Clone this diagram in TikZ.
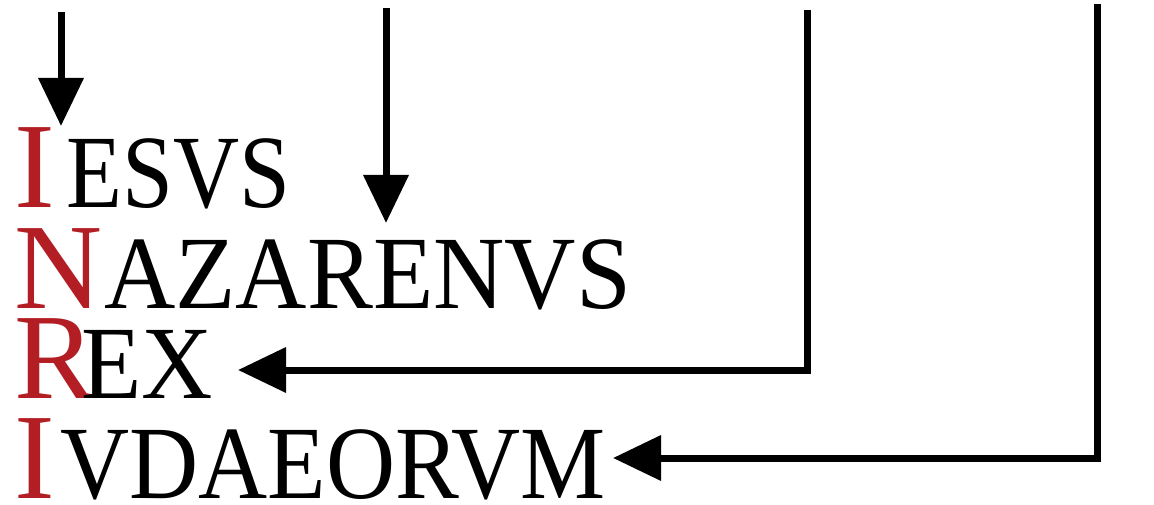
\documentclass[tikz,border=0pt]{standalone}
\usepackage{fontspec}
\setmainfont{Liberation Serif}
\usetikzlibrary{arrows.meta}
\definecolor{inri}{RGB}{178,30,36}
\tikzset{
  word/.style={anchor=base west, inner sep=0pt, outer sep=0pt, text=black},
  conn/.style={line width=7pt, -{Triangle[length=48pt,width=44pt]}, line join=miter},
}
\newcommand{\ini}[1]{{\color{inri}\fontsize{122}{122}\selectfont #1}}
\newcommand{\rst}[2]{\scalebox{#1}[1]{\fontsize{104}{104}\selectfont #2}}
\begin{document}
\begin{tikzpicture}[x=1pt,y=1pt]
\useasboundingbox (0,0) rectangle (1154,504);
\node[word] (l1) at (14,296) {\ini{I}\kern12pt\rst{0.88}{ESVS}};
\node[word] (l2) at (14,196) {\ini{N}\kern2pt\rst{0.95}{AZARENVS}};
\node[word] (l3) at (14,106) {\ini{R}\kern-14pt\rst{0.95}{EX}};
\node[word] (l4) at (14,6) {\ini{I}\kern6pt\rst{0.92}{VDAEORVM}};
\coordinate (s1) at (61,492);
\coordinate (t1) at (61,378);
\coordinate (s2) at (386,496);
\coordinate (t2) at (386,281);
\coordinate (s3) at (807,494);
\coordinate (c3) at (807,134);
\coordinate (t3) at (238,134);
\coordinate (s4) at (1097,500);
\coordinate (c4) at (1097,46);
\coordinate (t4) at (613,46);
\draw[conn] (s1) -- (t1);
\draw[conn] (s2) -- (t2);
\draw[conn] (s3) -- (c3) -- (t3);
\draw[conn] (s4) -- (c4) -- (t4);
\end{tikzpicture}
\end{document}
